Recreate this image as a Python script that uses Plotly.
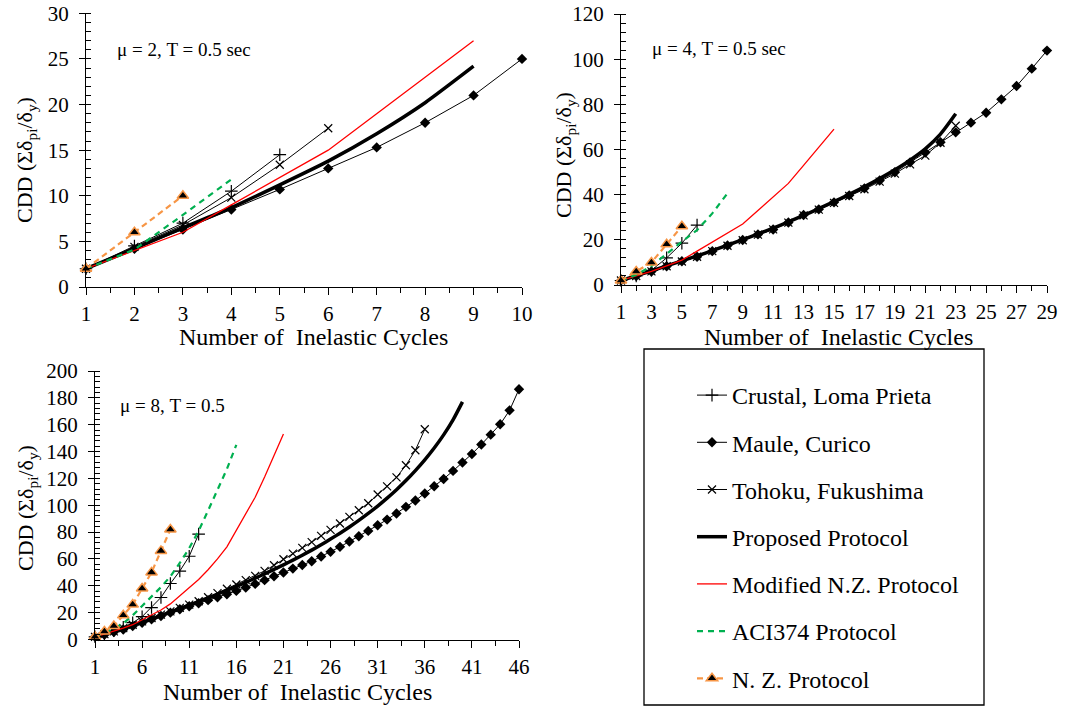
import plotly.graph_objects as go

# ---------------- data ----------------
# mu = 2 panel
tl_crustal = [2, 4.5, 7, 10.5, 14.5]
tl_maule = [2, 4.2, 6.3, 8.5, 10.7, 13, 15.3, 18, 21, 25]
tl_tohoku = [2, 4.4, 6.8, 9.8, 13.4, 17.4]
tl_proposed = [2, 4.2, 6.5, 8.7, 11.2, 13.8, 16.8, 20.2, 24.2]
tl_modnz = [2, 4, 6, 9, 12, 15, 19, 23, 27]
tl_aci = [2, 4.1, 7.9, 11.8]
tl_nz = [2, 6, 10]

# mu = 4 panel
tr_crustal = [2, 4, 6.5, 12, 18.5, 26.5]
tr_maule = [2, 4, 6, 8.3, 10.5, 12.5, 15, 17.5, 19.9, 22.4, 24.6, 27.7, 31, 33.5, 36.6,
            39.7, 42.8, 46.3, 49.9, 54.3, 58.7, 63.2, 67.6, 71.9, 76.3, 82.2, 88.1, 95.8, 103.8]
tr_tohoku = [2, 4, 6, 8.3, 10.4, 12.5, 15, 17.4, 19.8, 22.3, 24.6, 27.6, 30.8, 33.4, 36.4,
             39.4, 42.4, 45.8, 49.3, 53.4, 57.3, 63, 70.5]
tr_proposed = [2, 4.1, 6.2, 8.5, 10.7, 12.9, 15.2, 17.6, 20.1, 22.6, 25.2, 27.9, 30.8, 33.8,
               36.9, 40.1, 43.5, 47.1, 51, 55.3, 60.3, 66.8, 75.8]
tr_modnz = [2, 4, 6, 8.5, 11, 15, 19, 23, 27, 33, 39, 45, 53, 61, 69]
tr_aci = [2, 4.5, 8.4, 14, 19.2, 24.3, 31.7, 40.6]
tr_nz = [2, 6, 10, 18, 26]

# mu = 8 panel
bl_crustal = [2, 4, 6.5, 9, 12.5, 17, 23.8, 31.3, 41.7, 51, 62, 78.5]
bl_maule = [2, 3.5, 5.5, 7.5, 10, 12.5, 15, 17.5, 20, 22.5, 24.8, 27, 29.3, 31.5, 33.7, 36.2,
            38.7, 41.4, 44.2, 47.1, 49.9, 52.8, 55.5, 58.3, 61.8, 65.3, 69, 73, 76.9, 80.9,
            85.1, 89.3, 93.8, 98.8, 103.5, 108.7, 114.1, 119.6, 125.6, 131.8, 138.2, 145.2,
            152.6, 160.3, 170.7, 186.4]
bl_tohoku = [2, 4, 6, 8.5, 11, 13.5, 16, 18.5, 21, 23.5, 26, 28.5, 31.5, 34.5, 37.8, 41, 44.2,
             47.4, 51.1, 55.3, 59.8, 64, 68.2, 72.5, 77.2, 81.6, 86.4, 91.3, 96.3, 101.5, 108,
             114.1, 120.8, 129.8, 141, 156.6]
bl_proposed = [2, 4, 6, 8, 10.3, 12.7, 15.2, 17.8, 20.4, 23, 25.6, 28.3, 31, 33.8, 36.7, 39.6,
               42.6, 45.7, 48.9, 52.2, 55.6, 59.1, 62.8, 66.6, 70.6, 74.8, 79.2, 83.8, 88.7,
               93.9, 99.4, 105.3, 111.6, 118.4, 125.8, 133.8, 142.6, 152.4, 163.6, 177]
bl_modnz = [2, 4, 6, 8.5, 11, 14.5, 18, 22, 26.5, 32.5, 38.5, 44.7, 52, 60, 69, 81, 93, 106,
            121, 137, 153]
bl_aci = [2, 5, 8, 12, 18, 25, 32, 39, 47, 57, 68, 81, 96, 111, 127, 145]
bl_nz = [2, 6, 10, 18, 26, 38, 50, 66, 82]

series_names = ["Crustal, Loma Prieta", "Maule, Curico", "Tohoku, Fukushima",
                "Proposed Protocol", "Modified N.Z. Protocol", "ACI374 Protocol",
                "N. Z. Protocol"]
panel_labels = ["\u03bc = 2, T = 0.5 sec", "\u03bc = 4, T = 0.5 sec", "\u03bc = 8, T = 0.5"]
ytitle = "CDD (\u03a3\u03b4<sub>pi</sub>/\u03b4<sub>y</sub>)"
xtitle = "Number of\u00a0 Inelastic Cycles"

panels = [
    ("x", "y", [tl_crustal, tl_maule, tl_tohoku, tl_proposed, tl_modnz, tl_aci, tl_nz]),
    ("x2", "y2", [tr_crustal, tr_maule, tr_tohoku, tr_proposed, tr_modnz, tr_aci, tr_nz]),
    ("x3", "y3", [bl_crustal, bl_maule, bl_tohoku, bl_proposed, bl_modnz, bl_aci, bl_nz]),
]

ORANGE = "#F79646"
GREEN = "#00B050"
styles = [
    dict(mode="lines+markers", line=dict(color="black", width=1),
         marker=dict(symbol="cross-thin", size=9, line=dict(color="black", width=1.2))),
    dict(mode="lines+markers", line=dict(color="black", width=1),
         marker=dict(symbol="diamond", size=8, color="black")),
    dict(mode="lines+markers", line=dict(color="black", width=1),
         marker=dict(symbol="x-thin", size=8, line=dict(color="black", width=1.2))),
    dict(mode="lines", line=dict(color="black", width=3.5, shape="spline", smoothing=0.6)),
    dict(mode="lines", line=dict(color="#FF0000", width=1.3)),
    dict(mode="lines", line=dict(color=GREEN, width=2.2, dash="6px,5px")),
    dict(mode="lines+markers", line=dict(color=ORANGE, width=2.2, dash="6px,4px"),
         marker=dict(symbol="triangle-up", size=10, color="black",
                     line=dict(color=ORANGE, width=1.5))),
]

fig = go.Figure()
for pi, (xa, ya, data) in enumerate(panels):
    for si, ys in enumerate(data):
        cycles = list(range(1, len(ys) + 1))
        fig.add_trace(go.Scatter(
            x=cycles, y=ys, xaxis=xa, yaxis=ya, name=series_names[si],
            legendgroup=series_names[si], showlegend=(pi == 2), cliponaxis=False,
            **styles[si]))

FONT = "Liberation Serif"
TICKF = dict(family=FONT, size=21, color="black")


def xax(domain, anchor, rng, dtick, minor_dtick):
    return dict(domain=domain, anchor=anchor, range=rng, tick0=1, dtick=dtick,
                showgrid=False, zeroline=False, showline=True, linecolor="black",
                linewidth=1.3, ticks="outside", ticklen=7, tickwidth=1.3,
                tickcolor="black", tickfont=TICKF, automargin=False,
                ticklabelstandoff=1,
                minor=dict(dtick=minor_dtick, tick0=1, ticks="outside", ticklen=5,
                           tickcolor="black", tickwidth=1))


def yax(domain, anchor, rng, dtick, minor_dtick):
    return dict(domain=domain, anchor=anchor, range=rng, tick0=0, dtick=dtick,
                showgrid=False, zeroline=False, showline=True, linecolor="black",
                linewidth=1.3, ticks="outside", ticklen=6, tickwidth=1.3,
                tickcolor="black", tickfont=TICKF, automargin=False,
                ticklabelstandoff=6,
                minor=dict(dtick=minor_dtick, tick0=0, ticks="inside", ticklen=5,
                           tickcolor="black", tickwidth=1))


def yin(overlay, anchor, rng, dtick):
    # inner half of the crossing major ticks on the value axis
    return dict(overlaying=overlay, anchor=anchor, range=rng, tick0=0, dtick=dtick,
                showgrid=False, zeroline=False, showline=False, ticks="inside",
                ticklen=6, tickwidth=1.3, tickcolor="black", showticklabels=False,
                automargin=False)


W, H = 1086, 708


def ann(text, x, y, size, angle=0, xanchor="center"):
    return dict(text=text, xref="paper", yref="paper", x=x / W, y=1 - y / H,
                xanchor=xanchor, yanchor="middle", showarrow=False, textangle=angle,
                font=dict(family=FONT, size=size, color="black"))


annotations = [
    ann(panel_labels[0], 115, 50, 19, xanchor="left"),
    ann(panel_labels[1], 650, 48, 19, xanchor="left"),
    ann(panel_labels[2], 118, 405, 19, xanchor="left"),
    ann(xtitle, 313, 337, 24),
    ann(xtitle, 838, 337, 24),
    ann(xtitle, 297, 692, 24),
    ann(ytitle, 26, 160, 22, angle=-90),
    ann(ytitle, 565, 155, 22, angle=-90),
    ann(ytitle, 27, 508, 22, angle=-90),
]

fig.update_layout(
    width=W, height=H, margin=dict(l=0, r=0, t=0, b=0),
    paper_bgcolor="white", plot_bgcolor="white",
    font=dict(family=FONT, color="black"),
    xaxis=xax([86 / W, 522 / W], "y", [1, 10], 1, 0.5),
    yaxis=yax([1 - 287 / H, 1 - 13.3 / H], "x", [0, 30], 5, 1),
    xaxis2=xax([621 / W, 1047 / W], "y2", [1, 29], 2, 1),
    yaxis2=yax([1 - 285 / H, 1 - 14 / H], "x2", [0, 120], 20, 4),
    xaxis3=xax([95 / W, 519 / W], "y3", [1, 46], 5, 2.5),
    yaxis3=yax([1 - 639.5 / H, 1 - 371 / H], "x3", [0, 200], 20, 4),
    yaxis4=yin("y", "x", [0, 30], 5),
    yaxis5=yin("y2", "x2", [0, 120], 20),
    yaxis6=yin("y3", "x3", [0, 200], 20),
    legend=dict(x=692 / W, y=1 - 373 / H, xanchor="left", yanchor="top",
                font=dict(family=FONT, size=24, color="black"),
                bgcolor="rgba(0,0,0,0)", borderwidth=0, tracegroupgap=13,
                itemwidth=30),
    shapes=[dict(type="rect", xref="paper", yref="paper",
                 x0=644 / W, x1=984 / W, y0=1 - 705 / H, y1=1 - 349 / H,
                 line=dict(color="black", width=1.3), fillcolor="rgba(0,0,0,0)")],
    annotations=annotations,
)

fig.write_html("out.html")
